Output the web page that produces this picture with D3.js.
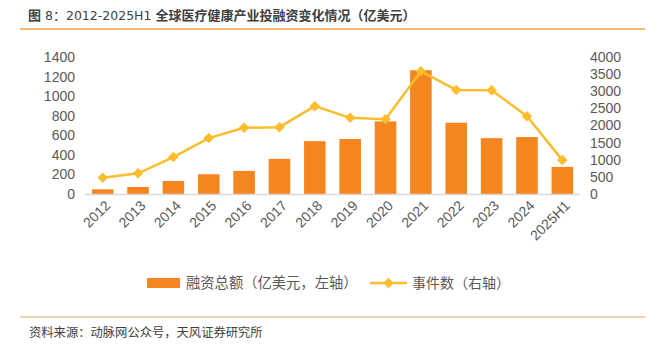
<!DOCTYPE html>
<html>
<head>
<meta charset="utf-8">
<script src="https://cdn.jsdelivr.net/npm/d3@7/dist/d3.min.js"></script>
<style>
  html, body { margin: 0; padding: 0; background: #fff; }
  svg { display: block; font-family: "Liberation Sans", Arial, "Noto Sans CJK SC", sans-serif; }
</style>
</head>
<body>
<svg id="chart" width="661" height="350"></svg>
<script>
const categories = ["2012","2013","2014","2015","2016","2017","2018","2019","2020","2021","2022","2023","2024","2025H1"];
const fundingAmount = [48, 72, 133, 202, 236, 359, 540, 562, 742, 1265, 728, 571, 582, 277];
const eventCount = [475, 603, 1078, 1632, 1932, 1952, 2564, 2224, 2185, 3584, 3040, 3030, 2272, 990];
const leftTicks = [0, 200, 400, 600, 800, 1000, 1200, 1400];
const rightTicks = [0, 500, 1000, 1500, 2000, 2500, 3000, 3500, 4000];
const titlePrefix = "图 8：2012-2025H1 ";
const titleMain = "全球医疗健康产业投融资变化情况（亿美元）";
const sourceText = "资料来源：动脉网公众号，天风证券研究所";
const legendBar = "融资总额（亿美元，左轴）";
const legendLine = "事件数（右轴）";

const barColor = "#F5861F";
const lineColor = "#FBBD2C";
const textColor = "#595959";
const cjk = '"Noto Sans CJK SC", sans-serif';

const svg = d3.select("#chart");
const x0 = 85, x1 = 580, yBase = 194, yTop = 57;

const x = d3.scaleBand().domain(categories).range([x0, x1]).paddingInner(0.39).paddingOuter(0.195);
const yL = d3.scaleLinear().domain([0, 1400]).range([yBase, yTop]);
const yR = d3.scaleLinear().domain([0, 4000]).range([yBase, yTop]);

// Title
const t = svg.append("text").attr("x", 28).attr("y", 20).attr("font-family", cjk)
  .attr("font-size", 13).attr("fill", "#404040");
t.append("tspan").attr("font-weight", "bold").text(titlePrefix.slice(0, 1));
t.append("tspan").attr("font-family", '"DejaVu Sans", sans-serif').attr("font-size", 12.5).text(titlePrefix.slice(1, 3));
t.append("tspan").text(titlePrefix.slice(3, 4));
t.append("tspan").attr("font-family", '"DejaVu Sans", sans-serif').attr("font-size", 12.5).text(titlePrefix.slice(4));
t.append("tspan").attr("font-weight", "bold").text(titleMain);
svg.append("line").attr("x1", 20).attr("x2", 645).attr("y1", 29).attr("y2", 29)
  .attr("stroke", "#F5A04A").attr("stroke-width", 1.5);

// Bars
svg.append("g").selectAll("rect").data(categories).join("rect")
  .attr("x", d => x(d)).attr("width", x.bandwidth())
  .attr("y", (d, i) => yL(fundingAmount[i]))
  .attr("height", (d, i) => yBase - yL(fundingAmount[i]))
  .attr("fill", barColor);

// Baseline
svg.append("line").attr("x1", x0).attr("x2", x1).attr("y1", yBase + 0.5).attr("y2", yBase + 0.5)
  .attr("stroke", "#D9D9D9").attr("stroke-width", 1.5);

// Left axis
const axL = svg.append("g").attr("transform", `translate(${x0 - 10},0)`)
  .call(d3.axisLeft(yL).tickValues(leftTicks).tickFormat(d3.format("d")).tickSize(0).tickPadding(0));
axL.select(".domain").remove();
axL.selectAll("text").attr("font-size", 14).attr("fill", textColor).attr("font-family", '"Liberation Sans", Arial, sans-serif');

// Right axis
const axR = svg.append("g").attr("transform", `translate(${x1 + 10},0)`)
  .call(d3.axisRight(yR).tickValues(rightTicks).tickFormat(d3.format("d")).tickSize(0).tickPadding(0));
axR.select(".domain").remove();
axR.selectAll("text").attr("font-size", 14).attr("fill", textColor).attr("font-family", '"Liberation Sans", Arial, sans-serif');

// X labels
svg.append("g").selectAll("text").data(categories).join("text")
  .attr("transform", d => `translate(${x(d) + x.bandwidth() / 2 + 5},${yBase + 9}) rotate(-45)`)
  .attr("text-anchor", "end").attr("dy", "0.35em")
  .attr("font-size", 14).attr("fill", textColor).text(d => d);

// Line
const pts = categories.map((d, i) => [x(d) + x.bandwidth() / 2, yR(eventCount[i])]);
svg.append("path").attr("d", d3.line()(pts)).attr("fill", "none")
  .attr("stroke", lineColor).attr("stroke-width", 2.5);
const diamond = d3.symbol().type(d3.symbolDiamond2).size(70);
svg.append("g").selectAll("path").data(pts).join("path")
  .attr("transform", p => `translate(${p[0]},${p[1]})`)
  .attr("d", diamond).attr("fill", lineColor);

// Legend
const ly = 283;
svg.append("rect").attr("x", 147).attr("y", ly - 5).attr("width", 33).attr("height", 10).attr("fill", barColor);
svg.append("text").attr("x", 186).attr("y", ly).attr("dy", "0.35em").attr("font-family", cjk)
  .attr("font-size", 14.3).attr("fill", textColor).text(legendBar);
svg.append("line").attr("x1", 370).attr("x2", 407).attr("y1", ly).attr("y2", ly)
  .attr("stroke", lineColor).attr("stroke-width", 2.5);
svg.append("path").attr("transform", `translate(388.5,${ly})`).attr("d", diamond).attr("fill", lineColor);
svg.append("text").attr("x", 412).attr("y", ly).attr("dy", "0.35em").attr("font-family", cjk)
  .attr("font-size", 14).attr("fill", textColor).text(legendLine);

// Footer
svg.append("line").attr("x1", 20).attr("x2", 645).attr("y1", 317).attr("y2", 317)
  .attr("stroke", "#E8A060").attr("stroke-width", 1.2);
svg.append("text").attr("x", 29).attr("y", 333).attr("dy", "0.35em").attr("font-family", cjk)
  .attr("font-size", 12.3).attr("fill", "#404040").text(sourceText);
</script>
</body>
</html>
